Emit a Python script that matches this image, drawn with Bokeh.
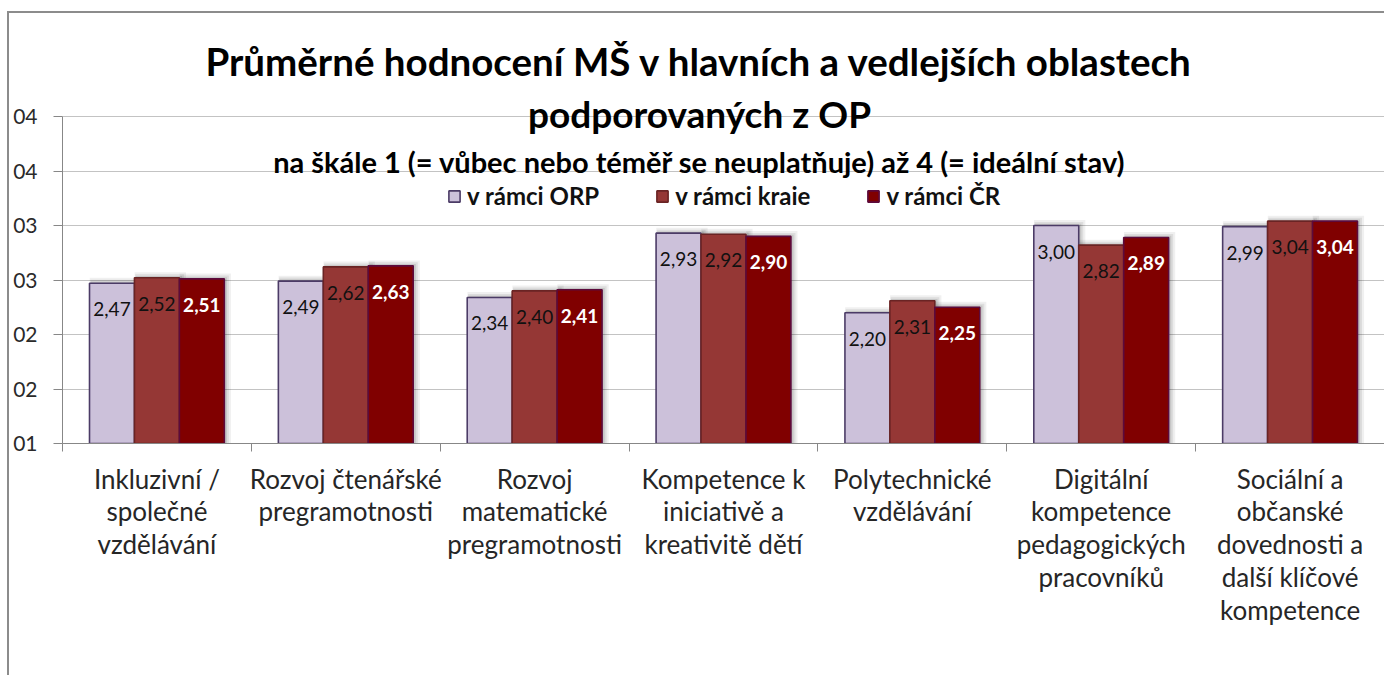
from bokeh.plotting import figure
from bokeh.models import (Range1d, LinearAxis, FixedTicker,
                          ColumnDataSource, LabelSet, Label, Legend, LegendItem)
from bokeh.transform import dodge
from bokeh.core.properties import value
from bokeh.embed import file_html
from bokeh.resources import INLINE

# ---------------- data ----------------
categories = [
    "Inkluzivní /\nspolečné\nvzdělávání",
    "Rozvoj čtenářské\npregramotnosti",
    "Rozvoj\nmatematické\npregramotnosti",
    "Kompetence k\niniciativě a\nkreativitě dětí",
    "Polytechnické\nvzdělávání",
    "Digitální\nkompetence\npedagogických\npracovníků",
    "Sociální a\nobčanské\ndovednosti a\ndalší klíčové\nkompetence",
]
orp = [2.47, 2.49, 2.34, 2.93, 2.20, 3.00, 2.99]
kraj = [2.52, 2.62, 2.40, 2.92, 2.31, 2.82, 3.04]
cr = [2.51, 2.63, 2.41, 2.90, 2.25, 2.89, 3.04]
series_names = ["v rámci ORP", "v rámci kraie", "v rámci ČR"]
y_ticks = [1.0, 1.5, 2.0, 2.5, 3.0, 3.5, 4.0]
y_tick_labels = ["01", "02", "02", "03", "03", "04", "04"]
title_lines = ["Průměrné hodnocení MŠ v hlavních a vedlejších oblastech",
               "podporovaných z OP"]
subtitle = "na škále 1 (= vůbec nebo téměř se neuplatňuje) až 4 (= ideální stav)"

# ---------------- styles ----------------
FONT = "Lato"
fills = ["#CCC1DA", "#953735", "#800000"]
lines = ["#4B3B66", "#6A2424", "#5C0A3C"]
label_colors = ["#111111", "#111111", "#FFFFFF"]
label_styles = ["normal", "normal", "bold"]
bar_w = 0.238
offsets = [-bar_w, 0.0, bar_w]
series_values = [orp, kraj, cr]
n = len(categories)
centers = [i + 0.5 for i in range(n)]   # category slots on the x scale

def fmt(v):
    return f"{v:.2f}".replace(".", ",")

src = ColumnDataSource(dict(
    xc=centers,
    orp=orp, kraj=kraj, cr=cr,
    orp_l=[fmt(v) for v in orp],
    kraj_l=[fmt(v) for v in kraj],
    cr_l=[fmt(v) for v in cr],
))
fields = ["orp", "kraj", "cr"]

p = figure(width=1375, height=662,
           x_range=Range1d(0, n), y_range=Range1d(1, 4.945),
           output_backend="svg", toolbar_location=None,
           x_axis_location=None,
           min_border_left=53, min_border_right=0,
           min_border_top=0, min_border_bottom=232)
p.outline_line_color = None
p.background_fill_color = "white"
p.border_fill_color = "white"
p.styles = {"margin-left": "9px", "margin-top": "13px",
            "outline": "2px solid #8C8C8C"}

# y axis
ya = p.yaxis[0]
ya.ticker = FixedTicker(ticks=y_ticks)
ya.bounds = (1, 4)
ya.major_label_overrides = {t: l for t, l in zip(y_ticks, y_tick_labels)}
ya.axis_line_color = "#878787"
ya.major_tick_line_color = "#878787"
ya.minor_tick_line_color = None
ya.major_tick_out = 9
ya.major_tick_in = 0
ya.major_label_text_font = FONT
ya.major_label_text_font_size = "21px"
ya.major_label_text_color = "#2A2A2A"
ya.major_label_standoff = 16

p.ygrid.ticker = FixedTicker(ticks=y_ticks)
p.ygrid.grid_line_color = "#C3C3C3"
p.xgrid.visible = False

# x axes: tick marks at category boundaries + category labels at slot centres
tick_axis = LinearAxis(ticker=FixedTicker(ticks=list(range(n + 1))),
                       major_tick_out=8, major_tick_in=0,
                       axis_line_color="#878787", major_tick_line_color="#878787",
                       minor_tick_line_color=None,
                       major_label_text_font_size="1px", major_label_text_alpha=0,
                       major_label_standoff=0)
p.add_layout(tick_axis, "below")
cat_axis = LinearAxis(ticker=FixedTicker(ticks=centers),
                      major_label_overrides={c: lab for c, lab in zip(centers, categories)},
                      axis_line_color=None, major_tick_line_color=None,
                      minor_tick_line_color=None,
                      major_label_text_font=FONT,
                      major_label_text_font_size="26px",
                      major_label_text_color="#262626",
                      major_label_text_line_height=1.03,
                      major_label_standoff=5)
p.add_layout(cat_axis, "below")

# soft shadows behind bars
for off, vals in zip(offsets, series_values):
    for dx, dt, dw, a in [(0.018, 0.050, 0.034, 0.06), (0.014, 0.032, 0.020, 0.08),
                          (0.010, 0.016, 0.008, 0.10)]:
        ssrc = ColumnDataSource(dict(xc=centers, top=[v + dt for v in vals]))
        p.vbar(x=dodge("xc", off + dx), top="top", width=bar_w + dw,
               bottom=0, source=ssrc, fill_color="black", fill_alpha=a, line_color=None)

renderers = []
for off, f, fc, lc in zip(offsets, fields, fills, lines):
    r = p.vbar(x=dodge("xc", off), top=f, width=bar_w, bottom=0,
               source=src, fill_color=fc, line_color=lc, line_width=1.6)
    renderers.append(r)

for off, f, c, st in zip(offsets, fields, label_colors, label_styles):
    ls = LabelSet(x=dodge("xc", off), y=f, text=f + "_l", source=src,
                  y_offset=-26, text_align="center", text_baseline="middle",
                  text_font=value(FONT), text_font_size="19px", text_color=c,
                  text_font_style=st)
    p.add_layout(ls)

# titles
cx = 3.373
p.add_layout(Label(x=cx, y=4.51, text=title_lines[0], text_align="center",
                   text_baseline="middle", text_font=FONT, text_font_size="38.5px",
                   text_font_style="bold", text_color="#000000"))
p.add_layout(Label(x=cx, y=4.028, text=title_lines[1], text_align="center",
                   text_baseline="middle", text_font=FONT, text_font_size="37px",
                   text_font_style="bold", text_color="#000000"))
p.add_layout(Label(x=cx, y=3.587, text=subtitle, text_align="center",
                   text_baseline="middle", text_font=FONT, text_font_size="29px",
                   text_font_style="bold", text_color="#000000"))

legend = Legend(items=[LegendItem(label=s, renderers=[r]) for s, r in zip(series_names, renderers)],
                orientation="horizontal", location=(385, 233),
                glyph_width=14, glyph_height=14, label_standoff=6, spacing=56,
                padding=0, margin=0, border_line_alpha=0, background_fill_alpha=0,
                label_text_font=FONT, label_text_font_size="24px", label_text_font_style="bold",
                label_text_color="#111111")
p.add_layout(legend)

open("out.html", "w").write(file_html(p, INLINE))
